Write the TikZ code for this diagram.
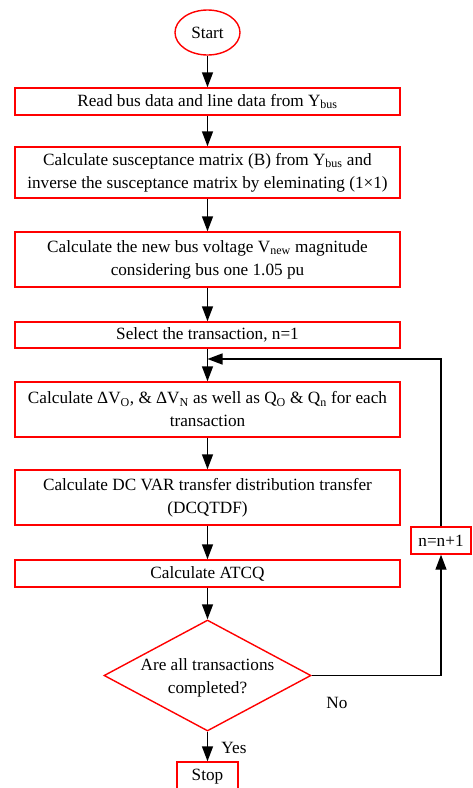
\documentclass[tikz,border=0pt]{standalone}
\usepackage{fontspec}
\setmainfont{Liberation Serif}
\usetikzlibrary{arrows.meta,shapes.geometric}
\begin{document}
\begin{tikzpicture}[x=1pt,y=-1pt,
 txt/.style={font=\fontsize{17.2}{23}\selectfont},
 box/.style={draw=red, line width=1.4pt, minimum width=385pt, align=center, inner sep=0pt, txt},
 arr/.style={-{Triangle[length=15pt,width=11pt]}, line width=1.4pt}]
\useasboundingbox (0,0) rectangle (472,788);
\node[draw=red, ellipse, minimum width=65pt, minimum height=45pt, line width=1.4pt, inner sep=0pt, txt] (start) at (207.5,32.5) {Start};
\node[box, minimum height=27pt] (b1) at (207.5,101.5) {Read bus data and line data from Y\textsubscript{bus}};
\node[box, minimum height=51pt] (b2) at (207.5,172.5) {Calculate susceptance matrix (B) from Y\textsubscript{bus} and\\inverse the susceptance matrix by eleminating (1×1)};
\node[box, minimum height=55pt] (b3) at (207.5,259.5) {Calculate the new bus voltage V\textsubscript{new} magnitude\\considering bus one 1.05 pu};
\node[box, minimum height=26pt] (b4) at (207.5,335) {Select the transaction, n=1};
\node[box, minimum height=55pt] (b5) at (207.5,409.5) {Calculate ΔV\textsubscript{O}, \& ΔV\textsubscript{N} as well as Q\textsubscript{O} \& Q\textsubscript{n} for each\\transaction};
\node[box, minimum height=55pt] (b6) at (207.5,497.5) {Calculate DC VAR transfer distribution transfer\\(DCQTDF)};
\node[box, minimum height=27pt] (b7) at (207.5,573.5) {Calculate ATCQ};
\node[draw=red, diamond, line width=1.4pt, minimum width=207pt, minimum height=111pt, inner sep=0pt] (dia) at (207.5,675.5) {};
\node[txt, align=center] (diat) at (207.5,678) {Are all transactions\\completed?};
\node[draw=red, line width=1.4pt, minimum width=61pt, minimum height=30pt, inner sep=0pt, txt] (stop) at (207.5,777) {Stop};
\node[draw=red, line width=1.4pt, minimum width=60pt, minimum height=27pt, inner sep=0pt, txt] (nb) at (441,540.5) {n=n+1};
\coordinate (lp) at (207.5,359);
\node[txt] (no) at (337,703) {No};
\node[txt] (yes) at (234,748) {Yes};
\draw[arr] (start) -- (b1);
\draw[arr] (b1) -- (b2);
\draw[arr] (b2) -- (b3);
\draw[arr] (b3) -- (b4);
\draw[arr] (b4) -- (b5);
\draw[arr] (b5) -- (b6);
\draw[arr] (b6) -- (b7);
\draw[arr] (b7) -- (dia);
\draw[arr] (dia) -- (stop);
\draw[arr] (dia.east) -| (nb.south);
\draw[arr] (nb.north) |- (lp);
\end{tikzpicture}
\end{document}
